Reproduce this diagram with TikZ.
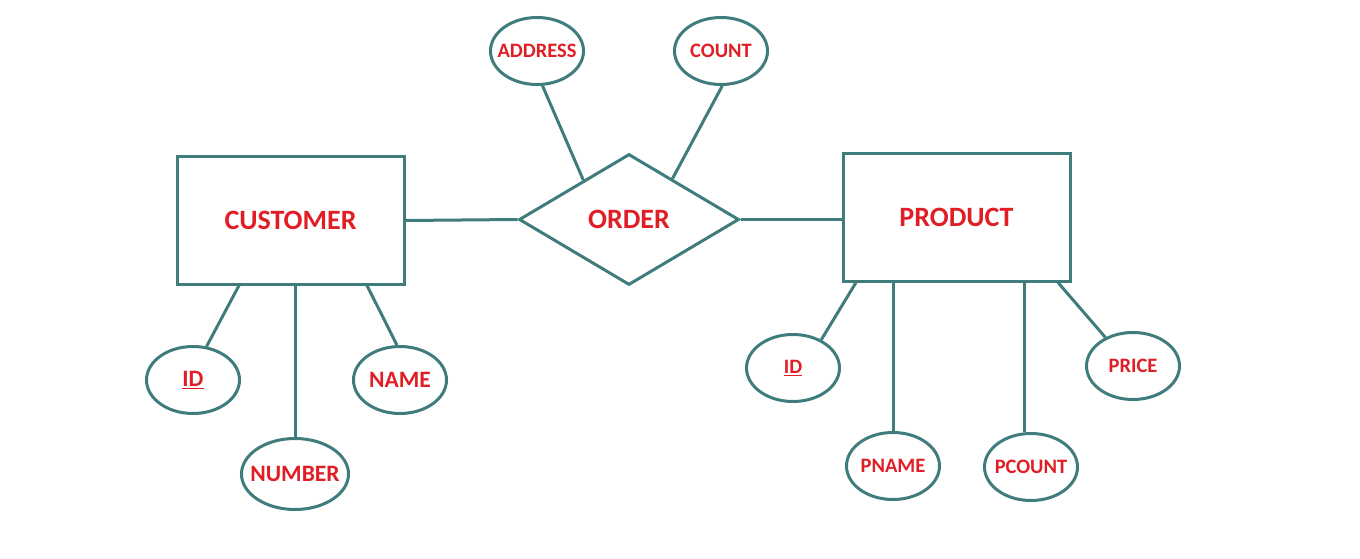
\documentclass[tikz,border=0pt]{standalone}
\usepackage{fontspec}
\setmainfont{Carlito}
\usetikzlibrary{shapes.geometric,calc}
\definecolor{erteal}{RGB}{64,124,124}
\definecolor{erred}{RGB}{224,30,38}
\begin{document}
\begin{tikzpicture}
% 1pt = 1px of the 1360x559 sheet, y runs downwards
[x=1pt,y=-1pt,line width=3pt,
 entity/.style={draw=erteal,rectangle,minimum width=227pt,minimum height=127pt,
   text=erred,font=\bfseries\fontsize{28}{30}\selectfont},
 relship/.style={draw=erteal,diamond,minimum width=220pt,minimum height=131pt,
   inner sep=0pt,text=erred,font=\bfseries\fontsize{28}{30}\selectfont},
 attr/.style={draw=erteal,ellipse,minimum width=93pt,minimum height=67pt,
   inner ysep=0pt,inner xsep=-14pt,text=erred,font=\bfseries\fontsize{20.5}{22}\selectfont},
 bigattr/.style={attr,font=\bfseries\fontsize{23.5}{25}\selectfont},
 link/.style={draw=erteal}]
\useasboundingbox (0,0) rectangle (1360,559);
% entities and relationship
\node[entity] (cust) at (290.5,220.5) {CUSTOMER};
\node[relship] (ord) at (629,219.5) {ORDER};
\node[entity] (prod) at (956.5,217.5) {PRODUCT};
% attributes
\foreach \nm/\x/\y/\txt in {cid/193/380/\underline{ID},cname/400/380/NAME}{
	\node[bigattr] (\nm) at (\x,\y) {\txt};}
\node[bigattr,minimum width=107pt,minimum height=71pt] (cnum) at (295,474) {NUMBER};
\foreach \nm/\x/\y/\txt in {addr/537/51/ADDRESS,cnt/721/51/COUNT,
	pid/793/368/\underline{ID},pname/893/466/PNAME,pcount/1031/467/PCOUNT,price/1133/366/PRICE}{
	\node[attr] (\nm) at (\x,\y) {\txt};}
% links
\draw[link] (cust.east) -- (ord.west);
\draw[link] (ord.east) -- (ord.east -| prod.west);
\draw[link] (addr.-81) -- ($(ord.west)!0.59!(ord.north)$);
\draw[link] (cnt.-88) -- ($(ord.north)!0.39!(ord.east)$);
\draw[link] ([xshift=-51.5pt]cust.south) -- (cid.68);
\draw[link] (cnum.north |- cust.south) -- (cnum.north);
\draw[link] ([xshift=76.5pt]cust.south) -- (cname.95);
\draw[link] ([xshift=-100.5pt]prod.south) -- (pid.45);
\draw[link] (pname.north |- prod.south) -- (pname.north);
\draw[link] (pcount.100 |- prod.south) -- (pcount.100);
\draw[link] ([xshift=101.5pt]prod.south) -- (price.134);
\end{tikzpicture}
\end{document}
